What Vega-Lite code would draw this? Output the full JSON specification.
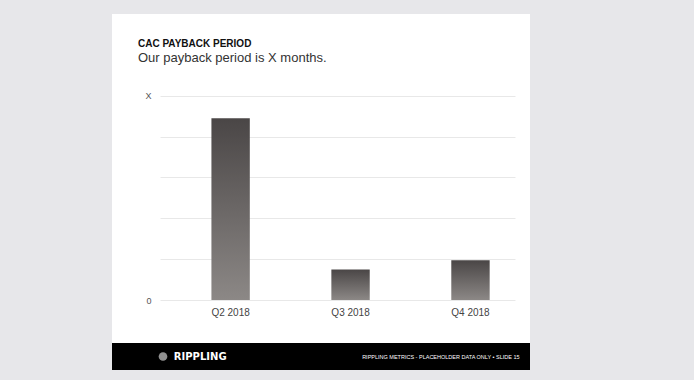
{
  "$schema": "https://vega.github.io/schema/vega-lite/v6.json",
  "background": "#e7e7ea",
  "padding": {"left": 112, "top": 14, "right": 164, "bottom": 10},
  "spacing": 0,
  "config": {
    "font": "Liberation Sans",
    "view": {"stroke": null}
  },
  "vconcat": [
    {
      "width": 418,
      "height": 329,
      "view": {"fill": "white", "stroke": null},
      "title": {
        "text": "CAC PAYBACK PERIOD",
        "subtitle": "Our payback period is X months.",
        "anchor": "start",
        "frame": "group",
        "offset": -51,
        "dx": 26,
        "font": "Liberation Sans",
        "fontSize": 10,
        "fontWeight": "bold",
        "color": "#111111",
        "subtitleFont": "Liberation Sans",
        "subtitleFontSize": 13,
        "subtitleColor": "#333333",
        "subtitlePadding": 3
      },
      "data": {
        "values": [
          {"quarter": "Q2 2018", "months": 8.9},
          {"quarter": "Q3 2018", "months": 1.5},
          {"quarter": "Q4 2018", "months": 1.95}
        ]
      },
      "mark": {
        "type": "bar",
        "color": {
          "gradient": "linear",
          "x1": 0, "y1": 0, "x2": 0, "y2": 1,
          "stops": [
            {"offset": 0, "color": "#4a4646"},
            {"offset": 1, "color": "#8c8886"}
          ]
        }
      },
      "encoding": {
        "x": {
          "field": "quarter",
          "type": "nominal",
          "sort": null,
          "scale": {"range": [48, 403], "paddingInner": 0.68, "paddingOuter": 0.32, "align": 0.67},
          "axis": {
            "title": null,
            "labelAngle": 0,
            "offset": -43,
            "domain": false,
            "ticks": false,
            "labelPadding": 7,
            "labelFontSize": 10,
            "labelColor": "#444444"
          }
        },
        "y": {
          "field": "months",
          "type": "quantitative",
          "scale": {"domain": [-2.1, 14.0], "nice": false, "zero": false},
          "axis": {
            "title": null,
            "values": [0, 2, 4, 6, 8, 10],
            "labelExpr": "datum.value == 0 ? '0' : (datum.value == 10 ? 'X' : '')",
            "offset": -48,
            "domain": false,
            "ticks": false,
            "labelPadding": 9,
            "labelFontSize": 9,
            "labelColor": "#555555",
            "gridColor": "#e8e8e8",
            "gridWidth": 1
          }
        }
      }
    },
    {
      "width": 418,
      "height": 27,
      "view": {"fill": "#000000", "stroke": null},
      "data": {"values": [{"logo": "RIPPLING", "note": "RIPPLING METRICS - PLACEHOLDER DATA ONLY  •  SLIDE 15"}]},
      "layer": [
        {
          "mark": {"type": "point", "filled": true, "color": "#cfcfcf", "size": 75, "shape": "circle"},
          "encoding": {
            "x": {"datum": 0.122, "type": "quantitative", "scale": {"domain": [0, 1], "nice": false}, "axis": null}
          }
        },
        {
          "mark": {"type": "text", "align": "left", "baseline": "middle", "color": "white", "font": "DejaVu Sans", "fontWeight": "bold", "fontSize": 10},
          "encoding": {
            "x": {"datum": 0.148, "type": "quantitative"},
            "text": {"field": "logo"}
          }
        },
        {
          "mark": {"type": "text", "align": "right", "baseline": "middle", "color": "white", "fontSize": 5.5},
          "encoding": {
            "x": {"datum": 0.975, "type": "quantitative"},
            "text": {"field": "note"}
          }
        }
      ]
    }
  ]
}
